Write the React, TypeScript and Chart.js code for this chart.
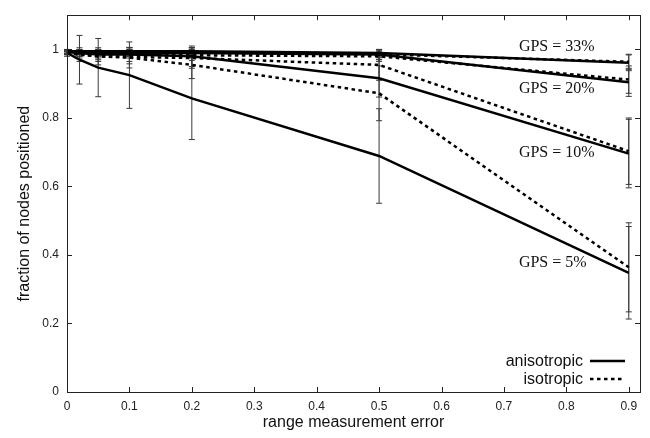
import React, { useEffect, useRef } from "react";
import { Chart, registerables } from "chart.js";

Chart.register(...registerables);

// ---- data ----
const xValues = [0, 0.02, 0.05, 0.1, 0.2, 0.5, 0.9];

const aniso33 = [0.995, 0.995, 0.995, 0.995, 0.995, 0.99, 0.961];
const iso33 = [0.99, 0.99, 0.99, 0.99, 0.99, 0.986, 0.964];
const aniso20 = [0.993, 0.99, 0.99, 0.99, 0.99, 0.985, 0.904];
const iso20 = [0.99, 0.985, 0.985, 0.985, 0.983, 0.98, 0.912];
const aniso10 = [0.993, 0.99, 0.985, 0.985, 0.98, 0.916, 0.696];
const iso10 = [0.99, 0.985, 0.98, 0.978, 0.975, 0.955, 0.703];
const aniso5 = [0.99, 0.97, 0.947, 0.925, 0.857, 0.689, 0.348];
const iso5 = [0.99, 0.985, 0.98, 0.976, 0.955, 0.872, 0.364];

// half-widths of the error bars
const aniso33Err = [0.005, 0.005, 0.005, 0.01, 0.01, 0.01, 0.023];
const iso33Err = [0.005, 0.005, 0.005, 0.01, 0.01, 0.01, 0.022];
const aniso20Err = [0.005, 0.005, 0.01, 0.01, 0.015, 0.015, 0.041];
const iso20Err = [0.005, 0.005, 0.01, 0.01, 0.015, 0.015, 0.04];
const aniso10Err = [0.005, 0.01, 0.015, 0.02, 0.03, 0.055, 0.1];
const iso10Err = [0.005, 0.01, 0.015, 0.02, 0.03, 0.045, 0.097];
const aniso5Err = [0.01, 0.071, 0.085, 0.097, 0.12, 0.138, 0.135];
const iso5Err = [0.005, 0.02, 0.025, 0.03, 0.04, 0.08, 0.13];

const xTicks = [0, 0.1, 0.2, 0.3, 0.4, 0.5, 0.6, 0.7, 0.8, 0.9];
const yTicks = [0, 0.2, 0.4, 0.6, 0.8, 1];

const gpsLabels = ["GPS = 33%", "GPS = 20%", "GPS = 10%", "GPS = 5%"];
const gpsLabelX = 0.724;
const gpsLabelY = [1.008, 0.886, 0.697, 0.378];

const legendLabels = ["anisotropic", "isotropic"];

const xTitle = "range measurement error";
const yTitle = "fraction of nodes positioned";

const SANS = "'Liberation Sans', Arial, sans-serif";
const SERIF = "'Liberation Serif', 'Times New Roman', serif";

type Series = { label: string; values: number[]; errors: number[]; dashed: boolean };

const series: Series[] = [
  { label: "anisotropic 33%", values: aniso33, errors: aniso33Err, dashed: false },
  { label: "isotropic 33%", values: iso33, errors: iso33Err, dashed: true },
  { label: "anisotropic 20%", values: aniso20, errors: aniso20Err, dashed: false },
  { label: "isotropic 20%", values: iso20, errors: iso20Err, dashed: true },
  { label: "anisotropic 10%", values: aniso10, errors: aniso10Err, dashed: false },
  { label: "isotropic 10%", values: iso10, errors: iso10Err, dashed: true },
  { label: "anisotropic 5%", values: aniso5, errors: aniso5Err, dashed: false },
  { label: "isotropic 5%", values: iso5, errors: iso5Err, dashed: true },
];

const DASH = [3.5, 3.5];
const LINE_W = 2.5;

const fmt = (v: number) => String(Math.round(v * 10) / 10);

const decorPlugin = {
  id: "decor",
  beforeDatasetsDraw(chart: any) {
    const ctx = chart.ctx;
    const xs = chart.scales.x;
    const ys = chart.scales.y;
    ctx.save();
    ctx.strokeStyle = "#3a3a3a";
    ctx.lineWidth = 1;
    series.forEach((s) => {
      s.values.forEach((v, i) => {
        const e = s.errors[i];
        if (!e) return;
        const px = xs.getPixelForValue(xValues[i]);
        const pt = ys.getPixelForValue(v + e);
        const pb = ys.getPixelForValue(v - e);
        ctx.beginPath();
        ctx.moveTo(px, pt);
        ctx.lineTo(px, pb);
        ctx.moveTo(px - 3, pt);
        ctx.lineTo(px + 3, pt);
        ctx.moveTo(px - 3, pb);
        ctx.lineTo(px + 3, pb);
        ctx.stroke();
      });
    });
    ctx.restore();
  },
  afterDatasetsDraw(chart: any) {
    const ctx = chart.ctx;
    const a = chart.chartArea;
    const xs = chart.scales.x;
    const ys = chart.scales.y;
    ctx.save();
    // frame
    ctx.strokeStyle = "#222";
    ctx.lineWidth = 1;
    ctx.strokeRect(Math.round(a.left) + 0.5, Math.round(a.top) + 0.5, Math.round(a.right - a.left), Math.round(a.bottom - a.top));
    // inward ticks, mirrored
    const TL = 5;
    ctx.beginPath();
    xTicks.forEach((v) => {
      const px = Math.round(xs.getPixelForValue(v)) + 0.5;
      ctx.moveTo(px, a.bottom);
      ctx.lineTo(px, a.bottom - TL);
      ctx.moveTo(px, a.top);
      ctx.lineTo(px, a.top + TL);
    });
    yTicks.forEach((v) => {
      const py = Math.round(ys.getPixelForValue(v)) + 0.5;
      ctx.moveTo(a.left, py);
      ctx.lineTo(a.left + TL, py);
      ctx.moveTo(a.right, py);
      ctx.lineTo(a.right - TL, py);
    });
    ctx.stroke();

    // GPS labels
    ctx.fillStyle = "#111";
    ctx.font = `16px ${SERIF}`;
    ctx.textAlign = "left";
    ctx.textBaseline = "middle";
    gpsLabels.forEach((t, i) => {
      ctx.fillText(t, xs.getPixelForValue(gpsLabelX), ys.getPixelForValue(gpsLabelY[i]));
    });

    // legend
    ctx.font = `16px ${SANS}`;
    ctx.textAlign = "right";
    legendLabels.forEach((t, i) => {
      const y = a.bottom - 31 + i * 18;
      ctx.fillStyle = "#111";
      ctx.fillText(t, a.right - 57, y + 1);
      ctx.beginPath();
      ctx.strokeStyle = "#000";
      ctx.lineWidth = LINE_W;
      ctx.setLineDash(i === 1 ? DASH : []);
      ctx.moveTo(a.right - 50, y);
      ctx.lineTo(a.right - 15, y);
      ctx.stroke();
      ctx.setLineDash([]);
    });
    ctx.restore();
  },
};

export default function App() {
  const ref = useRef<HTMLCanvasElement | null>(null);
  useEffect(() => {
    if (!ref.current) return;
    const chart = new Chart(ref.current, {
      type: "line",
      data: {
        datasets: series.map((s) => ({
          label: s.label,
          data: xValues.map((x, i) => ({ x, y: s.values[i] })),
          borderColor: "#000",
          borderWidth: LINE_W,
          borderDash: s.dashed ? DASH : [],
          pointRadius: 0,
          tension: 0,
          fill: false,
        })),
      },
      options: {
        animation: false,
        responsive: false,
        devicePixelRatio: 1,
        layout: { padding: { top: 12, right: 10, left: 0, bottom: 0 } },
        plugins: { legend: { display: false }, tooltip: { enabled: false } },
        scales: {
          x: {
            type: "linear",
            min: 0,
            max: 0.918,
            afterBuildTicks: (s: any) => {
              s.ticks = xTicks.map((v) => ({ value: v }));
            },
            afterFit: (s: any) => {
              s.height = 46;
            },
            grid: { display: false, drawTicks: false },
            border: { display: false },
            ticks: {
              padding: 7,
              autoSkip: false,
              maxRotation: 0,
              color: "#222",
              font: { family: SANS, size: 12 },
              callback: (v: any) => fmt(Number(v)),
            },
            title: {
              display: true,
              text: xTitle,
              color: "#111",
              font: { family: SANS, size: 16 },
              padding: { top: 0, bottom: 6 },
            },
          },
          y: {
            type: "linear",
            min: 0,
            max: 1.1,
            afterBuildTicks: (s: any) => {
              s.ticks = yTicks.map((v) => ({ value: v }));
            },
            afterFit: (s: any) => {
              s.width = 67;
            },
            grid: { display: false, drawTicks: false },
            border: { display: false },
            ticks: {
              padding: 8,
              autoSkip: false,
              color: "#222",
              font: { family: SANS, size: 12 },
              callback: (v: any) => fmt(Number(v)),
            },
            title: {
              display: true,
              text: yTitle,
              color: "#111",
              font: { family: SANS, size: 16 },
              padding: { top: 15, bottom: 0 },
            },
          },
        },
      },
      plugins: [decorPlugin],
    } as any);
    return () => chart.destroy();
  }, []);
  return (
    <div style={{ position: "absolute", left: 0, top: 0, width: 650, height: 438, background: "#fff" }}>
      <canvas ref={ref} width={650} height={438} />
    </div>
  );
}
